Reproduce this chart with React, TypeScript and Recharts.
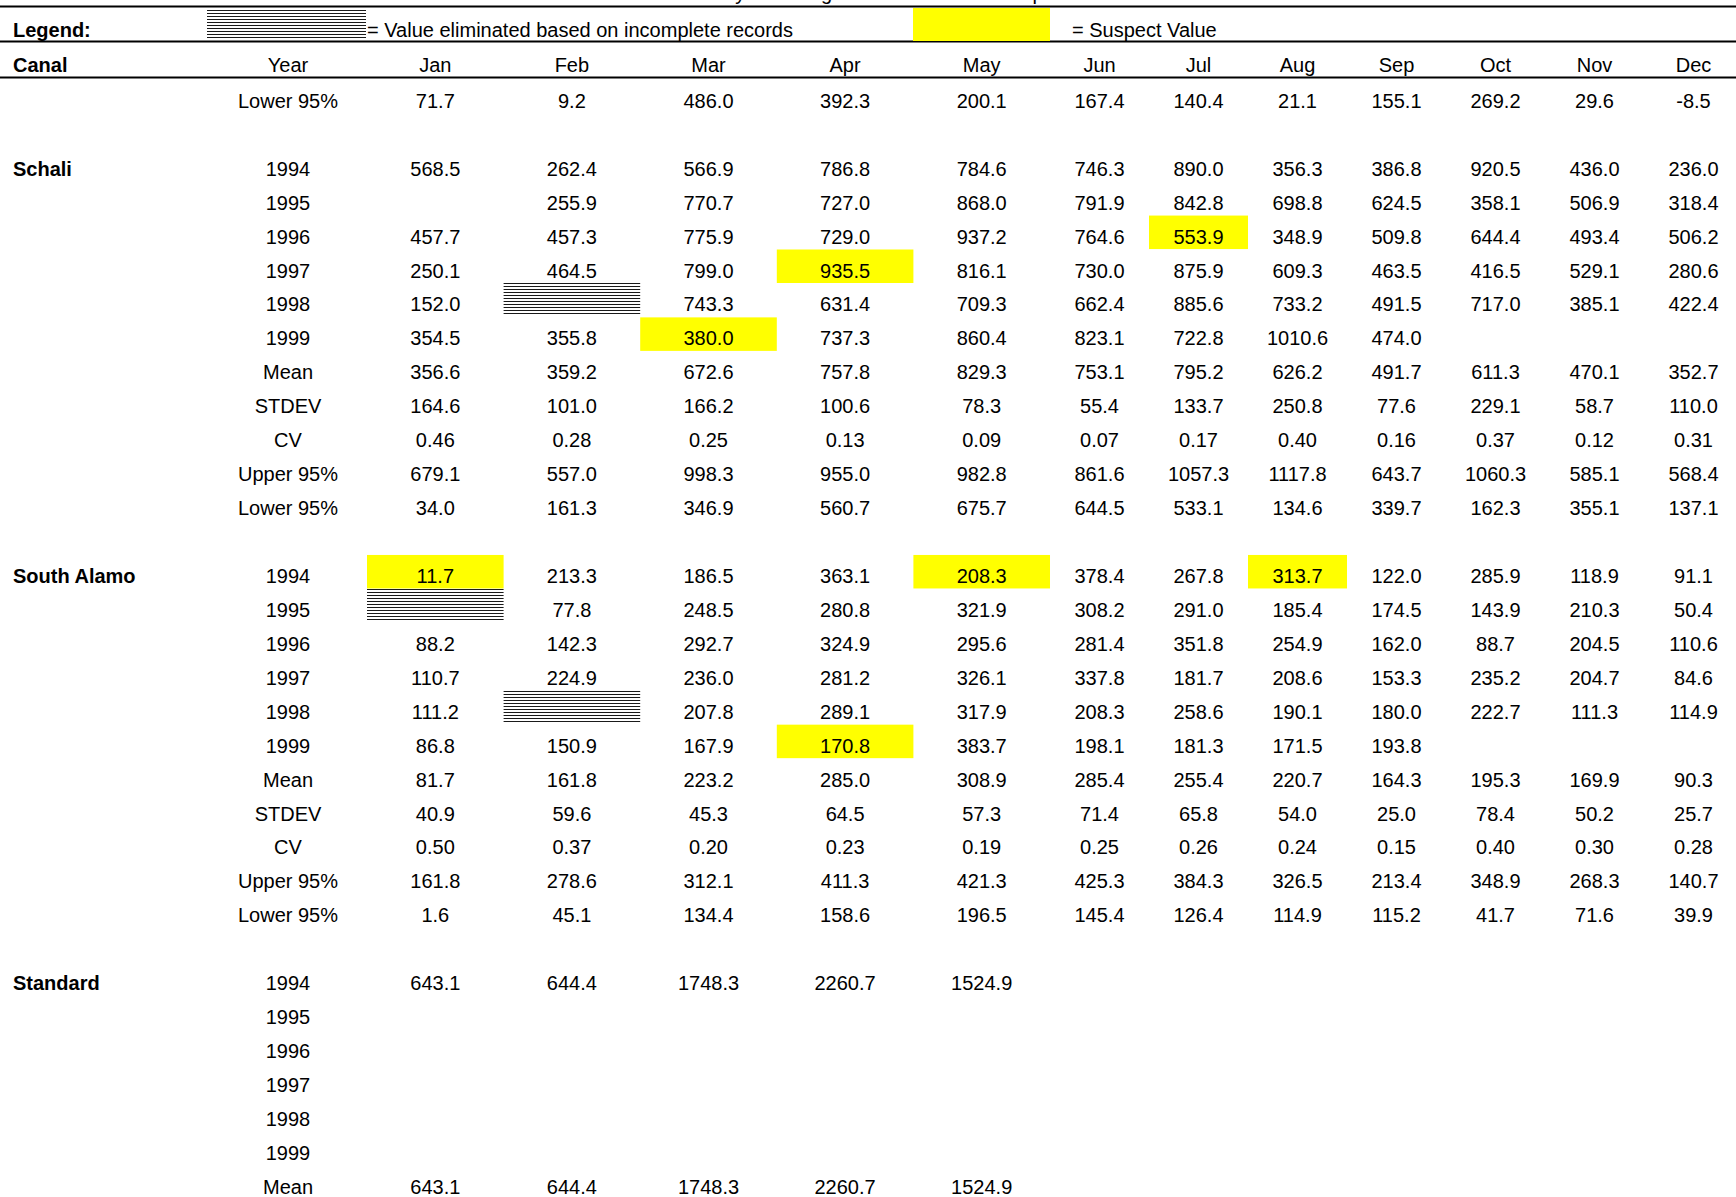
import React from 'react';
import { ScatterChart, Scatter, XAxis, YAxis, ReferenceLine } from 'recharts';

const W = 1736;
const H = 1197;
const FONT = '"Liberation Sans", Arial, Helvetica, sans-serif';
const FS = 20;

const title = 'Table 5-2. Statistical Analysis of Irrigation Water Deliveries per Month for Main Canals';
const months = ['Jan', 'Feb', 'Mar', 'Apr', 'May', 'Jun', 'Jul', 'Aug', 'Sep', 'Oct', 'Nov', 'Dec'];
const years = ['1994', '1995', '1996', '1997', '1998', '1999'];
const statLabels = ['Mean', 'STDEV', 'CV', 'Upper 95%', 'Lower 95%'];

// last line of the canal above Schali, the rest of it is off the page
const prevCanalLower95 = [71.7, 9.2, 486.0, 392.3, 200.1, 167.4, 140.4, 21.1, 155.1, 269.2, 29.6, -8.5];

const schaliYears: (number | null)[][] = [
  [568.5, 262.4, 566.9, 786.8, 784.6, 746.3, 890.0, 356.3, 386.8, 920.5, 436.0, 236.0],
  [null, 255.9, 770.7, 727.0, 868.0, 791.9, 842.8, 698.8, 624.5, 358.1, 506.9, 318.4],
  [457.7, 457.3, 775.9, 729.0, 937.2, 764.6, 553.9, 348.9, 509.8, 644.4, 493.4, 506.2],
  [250.1, 464.5, 799.0, 935.5, 816.1, 730.0, 875.9, 609.3, 463.5, 416.5, 529.1, 280.6],
  [152.0, null, 743.3, 631.4, 709.3, 662.4, 885.6, 733.2, 491.5, 717.0, 385.1, 422.4],
  [354.5, 355.8, 380.0, 737.3, 860.4, 823.1, 722.8, 1010.6, 474.0, null, null, null],
];
const schaliStats: (number | null)[][] = [
  [356.6, 359.2, 672.6, 757.8, 829.3, 753.1, 795.2, 626.2, 491.7, 611.3, 470.1, 352.7],
  [164.6, 101.0, 166.2, 100.6, 78.3, 55.4, 133.7, 250.8, 77.6, 229.1, 58.7, 110.0],
  [0.46, 0.28, 0.25, 0.13, 0.09, 0.07, 0.17, 0.40, 0.16, 0.37, 0.12, 0.31],
  [679.1, 557.0, 998.3, 955.0, 982.8, 861.6, 1057.3, 1117.8, 643.7, 1060.3, 585.1, 568.4],
  [34.0, 161.3, 346.9, 560.7, 675.7, 644.5, 533.1, 134.6, 339.7, 162.3, 355.1, 137.1],
];

const southAlamoYears: (number | null)[][] = [
  [11.7, 213.3, 186.5, 363.1, 208.3, 378.4, 267.8, 313.7, 122.0, 285.9, 118.9, 91.1],
  [null, 77.8, 248.5, 280.8, 321.9, 308.2, 291.0, 185.4, 174.5, 143.9, 210.3, 50.4],
  [88.2, 142.3, 292.7, 324.9, 295.6, 281.4, 351.8, 254.9, 162.0, 88.7, 204.5, 110.6],
  [110.7, 224.9, 236.0, 281.2, 326.1, 337.8, 181.7, 208.6, 153.3, 235.2, 204.7, 84.6],
  [111.2, null, 207.8, 289.1, 317.9, 208.3, 258.6, 190.1, 180.0, 222.7, 111.3, 114.9],
  [86.8, 150.9, 167.9, 170.8, 383.7, 198.1, 181.3, 171.5, 193.8, null, null, null],
];
const southAlamoStats: (number | null)[][] = [
  [81.7, 161.8, 223.2, 285.0, 308.9, 285.4, 255.4, 220.7, 164.3, 195.3, 169.9, 90.3],
  [40.9, 59.6, 45.3, 64.5, 57.3, 71.4, 65.8, 54.0, 25.0, 78.4, 50.2, 25.7],
  [0.50, 0.37, 0.20, 0.23, 0.19, 0.25, 0.26, 0.24, 0.15, 0.40, 0.30, 0.28],
  [161.8, 278.6, 312.1, 411.3, 421.3, 425.3, 384.3, 326.5, 213.4, 348.9, 268.3, 140.7],
  [1.6, 45.1, 134.4, 158.6, 196.5, 145.4, 126.4, 114.9, 115.2, 41.7, 71.6, 39.9],
];

const standardYears: (number | null)[][] = [
  [643.1, 644.4, 1748.3, 2260.7, 1524.9],
  [],
  [],
  [],
  [],
  [],
];
// only the Mean line fits on the page
const standardStats: (number | null)[][] = [
  [643.1, 644.4, 1748.3, 2260.7, 1524.9],
];

const suspectCells = [
  ['Schali', '1996', 'Jul'],
  ['Schali', '1997', 'Apr'],
  ['Schali', '1999', 'Mar'],
  ['South Alamo', '1994', 'Jan'],
  ['South Alamo', '1994', 'May'],
  ['South Alamo', '1994', 'Aug'],
  ['South Alamo', '1999', 'Apr'],
];
const eliminatedCells = [
  ['Schali', '1998', 'Feb'],
  ['South Alamo', '1995', 'Jan'],
  ['South Alamo', '1998', 'Feb'],
];

// layout
const CANAL_X = 13;
const YEAR_X = 288;
const FIRST_COL = 367;
const colW = months.map((_, i) => (i < 5 ? 136.6 : 99));
const colX = colW.map((w, i) => FIRST_COL + colW.slice(0, i).reduce((a, b) => a + b, 0) + w / 2);
const ROW0_Y = 100.8;
const ROW_H = 33.94;
const pxToRow = (px: number) => (px - ROW0_Y) / ROW_H;

type Cell = {
  x: number;
  y: number;
  text: string;
  anchor?: 'start' | 'middle';
  bold?: boolean;
  fill?: 'suspect' | 'eliminated';
  w?: number;
  top?: number;
  h?: number;
};

const isIn = (list: string[][], canal: string, label: string, month: string) =>
  list.some(([c, l, m]) => c === canal && l === label && m === month);

const buildCells = (): Cell[] => {
  const cells: Cell[] = [];
  const titleRow = pxToRow(-7);
  const legendRow = pxToRow(30);
  const headerRow = pxToRow(65);

  cells.push({ x: 890, y: titleRow, text: title });
  cells.push({ x: CANAL_X, y: legendRow, text: 'Legend:', anchor: 'start', bold: true });
  cells.push({ x: 286.5, y: legendRow, text: '', fill: 'eliminated', w: 159, top: -20, h: 29 });
  cells.push({ x: 367, y: legendRow, text: '= Value eliminated based on incomplete records', anchor: 'start' });
  cells.push({ x: 981.5, y: legendRow, text: '', fill: 'suspect', w: 137, top: -22, h: 33 });
  cells.push({ x: 1072, y: legendRow, text: '= Suspect Value', anchor: 'start' });

  cells.push({ x: CANAL_X, y: headerRow, text: 'Canal', anchor: 'start', bold: true });
  cells.push({ x: YEAR_X, y: headerRow, text: 'Year' });
  months.forEach((m, i) => cells.push({ x: colX[i], y: headerRow, text: m }));

  const addLine = (row: number, canal: string, label: string, values: (number | null)[], digits: number) => {
    cells.push({ x: YEAR_X, y: row, text: label });
    months.forEach((m, i) => {
      const v = values[i];
      const elim = isIn(eliminatedCells, canal, label, m);
      const sus = isIn(suspectCells, canal, label, m);
      if ((v === null || v === undefined) && !elim) return;
      cells.push({
        x: colX[i],
        y: row,
        text: v === null || v === undefined ? '' : v.toFixed(digits),
        fill: elim ? 'eliminated' : sus ? 'suspect' : undefined,
        w: colW[i],
      });
    });
  };

  addLine(0, '', 'Lower 95%', prevCanalLower95, 1);

  const blocks = [
    { name: 'Schali', start: 2, yrs: schaliYears, stats: schaliStats },
    { name: 'South Alamo', start: 14, yrs: southAlamoYears, stats: southAlamoStats },
    { name: 'Standard', start: 26, yrs: standardYears, stats: standardStats },
  ];
  blocks.forEach((b) => {
    cells.push({ x: CANAL_X, y: b.start, text: b.name, anchor: 'start', bold: true });
    years.forEach((yr, i) => addLine(b.start + i, b.name, yr, b.yrs[i], 1));
    b.stats.forEach((vals, j) => addLine(b.start + 6 + j, b.name, statLabels[j], vals, j === 2 ? 2 : 1));
  });
  return cells;
};

const cells = buildCells();

const CellShape = (props: any) => {
  const { cx, cy, payload } = props;
  const c = payload as Cell;
  const w = c.w ?? 0;
  const top = cy + (c.top ?? -21);
  const h = c.h ?? 33.5;
  const left = cx - w / 2;
  const hatch: React.ReactNode[] = [];
  if (c.fill === 'eliminated') {
    for (let k = 0; k * 3 + 1 < h; k++) {
      const ly = Math.round(top + k * 3) + 0.5;
      hatch.push(<line key={k} x1={left} x2={left + w} y1={ly} y2={ly} stroke="#1a1a1a" strokeWidth={1} />);
    }
  }
  return (
    <g>
      {c.fill === 'suspect' && <rect x={left} y={top} width={w} height={h} fill="#FFFF00" />}
      {hatch}
      {c.text && (
        <text
          x={cx}
          y={cy}
          dy="0.35em"
          textAnchor={c.anchor ?? 'middle'}
          fontFamily={FONT}
          fontSize={FS}
          fontWeight={c.bold ? 'bold' : 'normal'}
          fill="#000"
        >
          {c.text}
        </text>
      )}
    </g>
  );
};

const rules = [pxToRow(6.5), pxToRow(41.5), pxToRow(77.5)];

export default function App() {
  return (
    <div style={{ position: 'absolute', left: 0, top: 0, width: W, height: H, background: '#fff', overflow: 'hidden' }}>
      <ScatterChart width={W} height={H} margin={{ top: 0, right: 0, bottom: 0, left: 0 }}>
        <XAxis type="number" dataKey="x" domain={[0, W]} allowDataOverflow hide />
        <YAxis type="number" dataKey="y" domain={[pxToRow(0), pxToRow(H)]} allowDataOverflow reversed hide />
        {rules.map((r, i) => (
          <ReferenceLine key={i} y={r} stroke="#000" strokeWidth={2} />
        ))}
        <Scatter data={cells} shape={CellShape} isAnimationActive={false} />
      </ScatterChart>
    </div>
  );
}
